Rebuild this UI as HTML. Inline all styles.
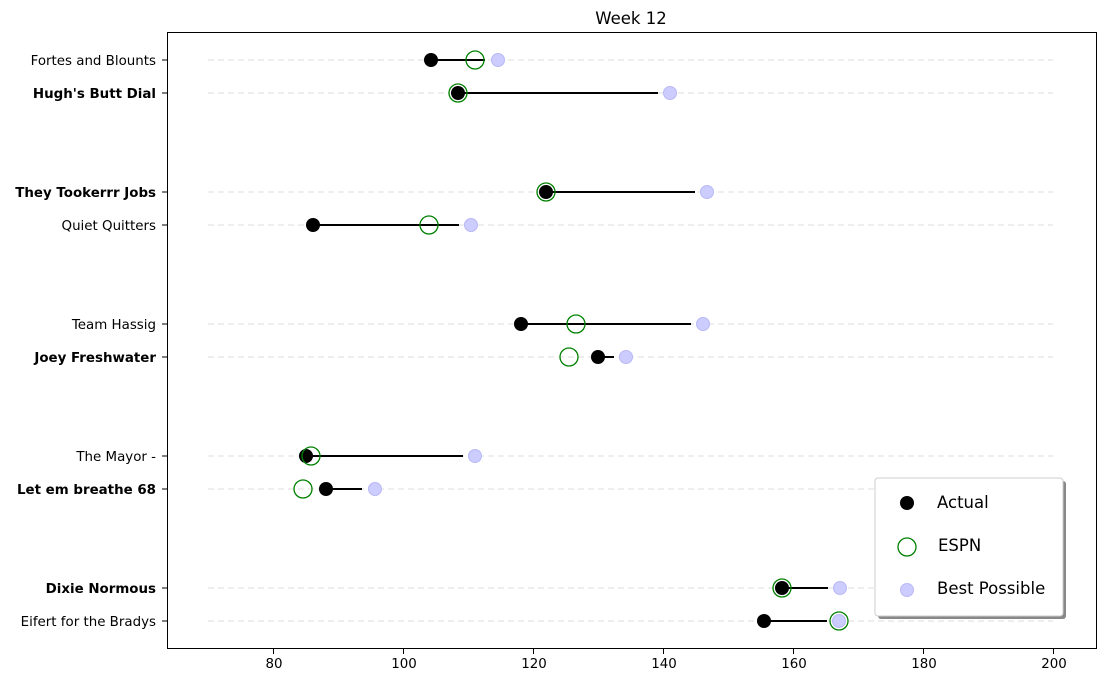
<!DOCTYPE html>
<html><head><style>body{margin:0;background:#fff}svg text{font-family:"DejaVu Sans","Liberation Sans",sans-serif}</style></head><body>
<svg width="1106" height="682" xmlns="http://www.w3.org/2000/svg">
<rect width="1106" height="682" fill="#fff"/>
<text x="631" y="24" font-size="16.5" text-anchor="middle">Week 12</text>
<g stroke="#ddd" stroke-dasharray="6,4" stroke-width="1">
<line x1="208" x2="1053" y1="60" y2="60"/><line x1="208" x2="1053" y1="93" y2="93"/>
<line x1="208" x2="1053" y1="192" y2="192"/><line x1="208" x2="1053" y1="225" y2="225"/>
<line x1="208" x2="1053" y1="324" y2="324"/><line x1="208" x2="1053" y1="357" y2="357"/>
<line x1="208" x2="1053" y1="456" y2="456"/><line x1="208" x2="1053" y1="489" y2="489"/>
<line x1="208" x2="1053" y1="588" y2="588"/><line x1="208" x2="1053" y1="621" y2="621"/>
</g>
<g stroke="#000" stroke-width="2">
<line x1="431" x2="485" y1="60" y2="60"/><line x1="458" x2="658" y1="93" y2="93"/>
<line x1="546" x2="695" y1="192" y2="192"/><line x1="313" x2="459" y1="225" y2="225"/>
<line x1="521" x2="691" y1="324" y2="324"/><line x1="598" x2="614" y1="357" y2="357"/>
<line x1="306" x2="463" y1="456" y2="456"/><line x1="326" x2="362" y1="489" y2="489"/>
<line x1="782" x2="828" y1="588" y2="588"/><line x1="764" x2="827" y1="621" y2="621"/>
</g>
<g fill="#ccccff" stroke="#b8b8f5">
<circle cx="498" cy="60" r="6.5"/><circle cx="670" cy="93" r="6.5"/><circle cx="707" cy="192" r="6.5"/><circle cx="471" cy="225" r="6.5"/><circle cx="703" cy="324" r="6.5"/><circle cx="626" cy="357" r="6.5"/><circle cx="475" cy="456" r="6.5"/><circle cx="375" cy="489" r="6.5"/><circle cx="840" cy="588" r="6.5"/><circle cx="839" cy="621" r="6.5"/>
</g>
<g fill="#000">
<circle cx="431" cy="60" r="7"/><circle cx="458" cy="93" r="7"/><circle cx="546" cy="192" r="7"/><circle cx="313" cy="225" r="7"/><circle cx="521" cy="324" r="7"/><circle cx="598" cy="357" r="7"/><circle cx="306" cy="456" r="7"/><circle cx="326" cy="489" r="7"/><circle cx="782" cy="588" r="7"/><circle cx="764" cy="621" r="7"/>
</g>
<g fill="none" stroke="green" stroke-width="1.3">
<circle cx="475" cy="60" r="9"/><circle cx="458" cy="93" r="9"/><circle cx="546" cy="192" r="9"/><circle cx="429" cy="225" r="9"/><circle cx="576" cy="324" r="9"/><circle cx="569" cy="357" r="9"/><circle cx="311" cy="456" r="9"/><circle cx="303" cy="489" r="9"/><circle cx="782" cy="588" r="9"/><circle cx="839" cy="621" r="9"/>
</g>
<rect x="167.5" y="32.5" width="929" height="616" fill="none" stroke="#000" stroke-width="1"/>
<g font-size="13.4" text-anchor="end">
<text x="156" y="65">Fortes and Blounts</text>
<text x="156" y="98" font-weight="bold">Hugh's Butt Dial</text>
<text x="156" y="197" font-weight="bold">They Tookerrr Jobs</text>
<text x="156" y="230">Quiet Quitters</text>
<text x="156" y="329">Team Hassig</text>
<text x="156" y="362" font-weight="bold">Joey Freshwater</text>
<text x="156" y="461">The Mayor -</text>
<text x="156" y="494" font-weight="bold">Let em breathe 68</text>
<text x="156" y="593" font-weight="bold">Dixie Normous</text>
<text x="156" y="626">Eifert for the Bradys</text>
</g>
<g stroke="#000"><line x1="162" x2="167" y1="60" y2="60"/><line x1="162" x2="167" y1="93" y2="93"/><line x1="162" x2="167" y1="192" y2="192"/><line x1="162" x2="167" y1="225" y2="225"/><line x1="162" x2="167" y1="324" y2="324"/><line x1="162" x2="167" y1="357" y2="357"/><line x1="162" x2="167" y1="456" y2="456"/><line x1="162" x2="167" y1="489" y2="489"/><line x1="162" x2="167" y1="588" y2="588"/><line x1="162" x2="167" y1="621" y2="621"/>
<line x1="273.5" x2="273.5" y1="649" y2="654"/><line x1="403.5" x2="403.5" y1="649" y2="654"/><line x1="533.5" x2="533.5" y1="649" y2="654"/><line x1="663.5" x2="663.5" y1="649" y2="654"/><line x1="793.5" x2="793.5" y1="649" y2="654"/><line x1="923.5" x2="923.5" y1="649" y2="654"/><line x1="1053.5" x2="1053.5" y1="649" y2="654"/></g>
<g font-size="13.4" text-anchor="middle">
<text x="274" y="668">80</text><text x="404" y="668">100</text><text x="534" y="668">120</text><text x="664" y="668">140</text><text x="794" y="668">160</text><text x="924" y="668">180</text><text x="1054" y="668">200</text>
</g>
<rect x="878" y="481" width="188" height="138" rx="3" fill="#888"/>
<rect x="875" y="478" width="188" height="138" rx="3" fill="#fff" stroke="#ccc"/>
<circle cx="907" cy="503" r="7" fill="#000"/>
<circle cx="907" cy="547" r="9" fill="none" stroke="green" stroke-width="1.3"/>
<circle cx="907" cy="590" r="6.5" fill="#ccccff" stroke="#b8b8f5"/>
<g font-size="16.5"><text x="937" y="508">Actual</text><text x="938" y="551">ESPN</text><text x="937" y="594">Best Possible</text></g>
</svg>
</body></html>
